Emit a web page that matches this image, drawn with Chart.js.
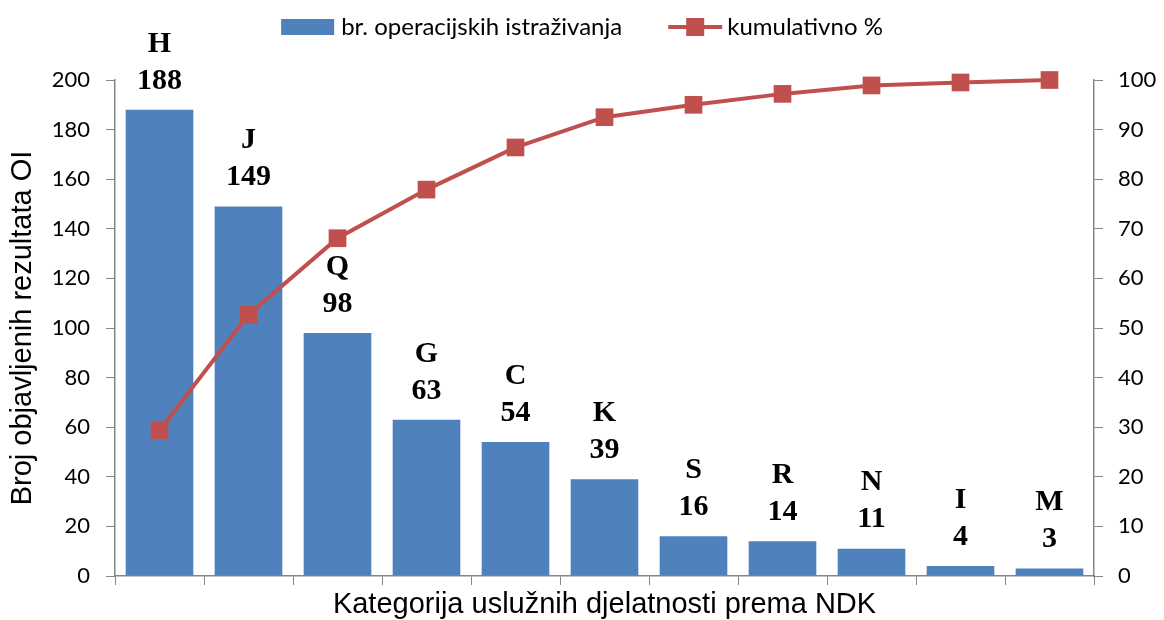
<!DOCTYPE html>
<html>
<head>
<meta charset="utf-8">
<script src="https://cdn.jsdelivr.net/npm/chart.js@4.4.0/dist/chart.umd.min.js"></script>
<style>
    html, body { margin: 0; padding: 0; background: #ffffff; }
    #wrap { width: 1164px; height: 620px; position: relative; }
</style>
</head>
<body>
<div id="wrap"><canvas id="chart"></canvas></div>
<script>
// category letters (NDK) and values
const categories = ["H", "J", "Q", "G", "C", "K", "S", "R", "N", "I", "M"];
const counts = [188, 149, 98, 63, 54, 39, 16, 14, 11, 4, 3];
const cumulativePct = [29.4, 52.7, 68.1, 77.9, 86.4, 92.5, 95.0, 97.2, 98.9, 99.5, 100];

const leftAxis = { min: 0, max: 200, step: 20 };
const rightAxis = { min: 0, max: 100, step: 10 };

const barLabel = "br. operacijskih istraživanja";
const lineLabel = "kumulativno %";
const xTitle = "Kategorija uslužnih djelatnosti prema NDK";
const yTitle = "Broj objavljenih rezultata OI";

const BLUE = "#4F81BD";
const RED = "#C0504D";
const AXIS = "#868686";

// letter + value above each bar
const barLabelsPlugin = {
    id: "barLabels",
    afterDatasetsDraw(chart)
    {
        const ctx = chart.ctx;
        const meta = chart.getDatasetMeta(0);
        ctx.save();
        ctx.fillStyle = "#000";
        ctx.textAlign = "center";
        ctx.textBaseline = "middle";
        ctx.font = "bold 30px 'Liberation Serif'";
        meta.data.forEach((bar, i) =>
        {
            ctx.fillText(String(counts[i]), bar.x, bar.y - 29);
            ctx.fillText(categories[i], bar.x, bar.y - 66);
        });
        ctx.restore();
    }
};

// legend on top: wide box for bars, line with square for the cumulative series
const topLegendPlugin = {
    id: "topLegend",
    afterDraw(chart)
    {
        const ctx = chart.ctx;
        const y = 27;
        ctx.save();
        ctx.font = "24px Lato";
        ctx.textBaseline = "middle";
        ctx.fillStyle = "#000";
        const w1 = ctx.measureText(barLabel).width;
        const w2 = ctx.measureText(lineLabel).width;
        const total = 53 + 7 + w1 + 46 + 54 + 5 + w2;
        let x = chart.width / 2 - total / 2;

        ctx.fillStyle = BLUE;
        ctx.fillRect(x, y - 8, 53, 16);
        x += 53 + 7;
        ctx.fillStyle = "#000";
        ctx.fillText(barLabel, x, y);
        x += w1 + 46;

        ctx.strokeStyle = RED;
        ctx.lineWidth = 4;
        ctx.beginPath();
        ctx.moveTo(x, y);
        ctx.lineTo(x + 54, y);
        ctx.stroke();
        ctx.fillStyle = RED;
        ctx.fillRect(x + 27 - 9, y - 9, 18, 18);
        x += 54 + 5;
        ctx.fillStyle = "#000";
        ctx.fillText(lineLabel, x, y);
        ctx.restore();
    }
};

const tickFont = { family: "Lato", size: 22 };
const titleFont = { family: "'Liberation Sans'", size: 29 };

const chart = new Chart(document.getElementById("chart").getContext("2d"),
    {
        data: {
            labels: categories,
            datasets: [
                {
                    type: "bar",
                    label: barLabel,
                    data: counts,
                    backgroundColor: BLUE,
                    barPercentage: 0.76,
                    categoryPercentage: 1.0,
                    yAxisID: "y",
                    order: 2
                },
                {
                    type: "line",
                    label: lineLabel,
                    data: cumulativePct,
                    borderColor: RED,
                    backgroundColor: RED,
                    borderWidth: 4,
                    pointStyle: "rect",
                    pointRadius: 12.5,
                    pointBackgroundColor: RED,
                    pointBorderColor: RED,
                    pointBorderWidth: 0,
                    tension: 0,
                    fill: false,
                    clip: false,
                    yAxisID: "y1",
                    order: 1
                }
            ]
        },
        options: {
            responsive: true,
            maintainAspectRatio: false,
            animation: false,
            layout: { padding: { top: 80, left: 0, right: 0, bottom: 0 } },
            plugins: {
                legend: { display: false },
                tooltip: { enabled: false }
            },
            scales: {
                x: {
                    offset: true,
                    grid: {
                        offset: true,
                        drawOnChartArea: false,
                        drawTicks: true,
                        tickLength: 9,
                        color: AXIS
                    },
                    border: { color: AXIS, width: 1.5 },
                    ticks: { callback: () => "", font: { size: 1 } },
                    title: {
                        display: true,
                        text: xTitle,
                        color: "#000",
                        font: titleFont,
                        padding: { top: 0, bottom: -2 }
                    },
                    afterFit: (scale) => { scale.height = 44; }
                },
                y: {
                    position: "left",
                    min: leftAxis.min,
                    max: leftAxis.max,
                    ticks: { stepSize: leftAxis.step, color: "#000", font: tickFont, padding: 16 },
                    grid: { drawOnChartArea: false, tickLength: 9, color: AXIS },
                    border: { color: AXIS, width: 1.5 },
                    title: {
                        display: true,
                        text: yTitle,
                        color: "#000",
                        font: titleFont,
                        padding: { top: 6, bottom: 0 }
                    },
                    afterFit: (scale) => { scale.width = 115; }
                },
                y1: {
                    position: "right",
                    min: rightAxis.min,
                    max: rightAxis.max,
                    ticks: { stepSize: rightAxis.step, color: "#000", font: tickFont, padding: 15, crossAlign: "near" },
                    grid: { drawOnChartArea: false, tickLength: 9, color: AXIS },
                    border: { color: AXIS, width: 1.5 },
                    afterFit: (scale) => { scale.width = 70; }
                }
            }
        },
        plugins: [barLabelsPlugin, topLegendPlugin]
    });
</script>
</body>
</html>
